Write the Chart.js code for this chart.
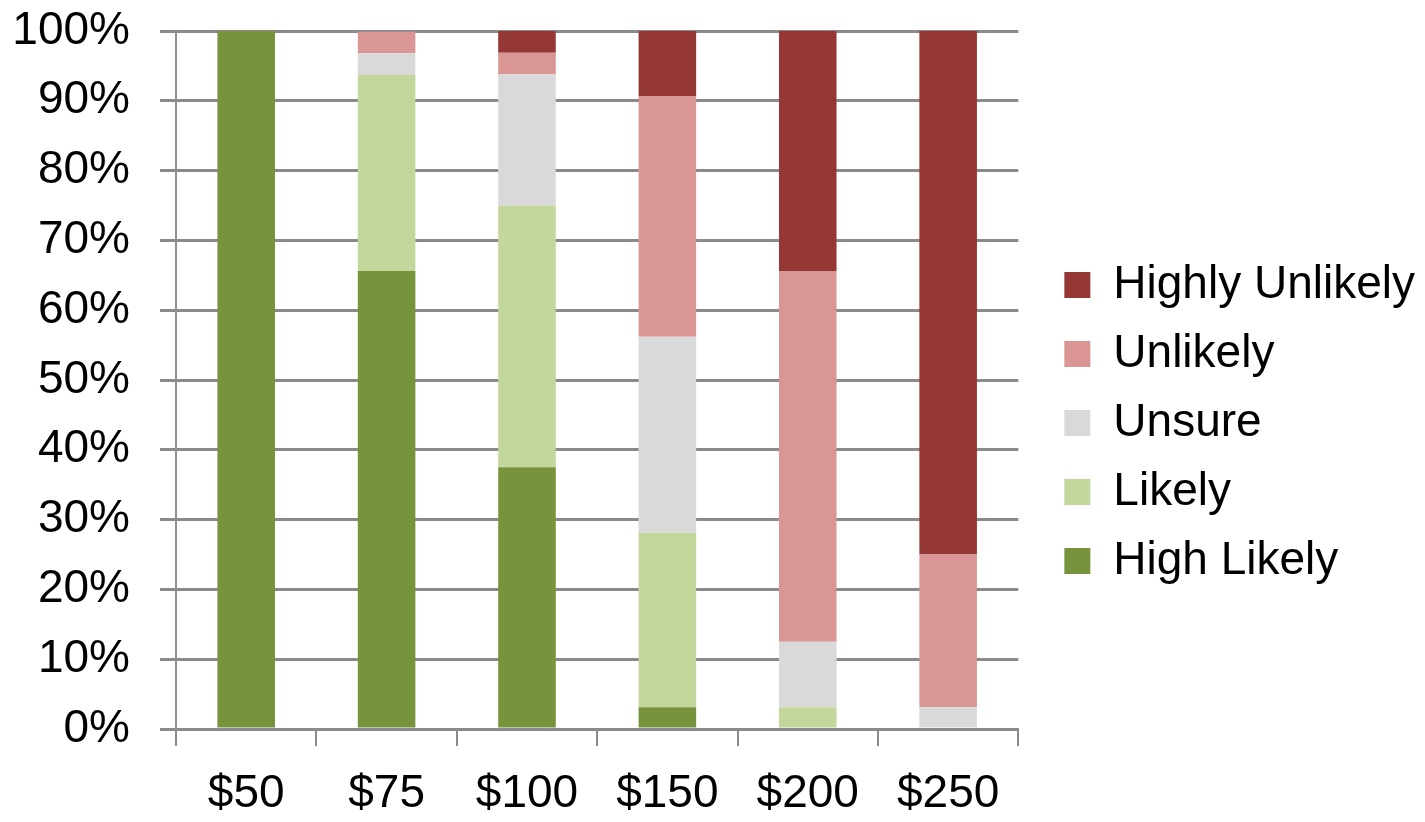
<!DOCTYPE html>
<html>
<head>
<meta charset="utf-8">
<script src="https://cdn.jsdelivr.net/npm/chart.js@4.4.1/dist/chart.umd.min.js"></script>
<style>
  html, body { margin: 0; padding: 0; background: #fff; }
  #wrap { width: 1425px; height: 822px; }
</style>
</head>
<body>
<div id="wrap"><canvas id="priceChart"></canvas></div>
<script>
// price points asked about
const prices = ['$50', '$75', '$100', '$150', '$200', '$250'];

// share of answers, percent (bottom of the stack first)
const highLikely     = [100, 65.6, 37.5, 3.1, 0, 0];
const likely         = [0, 28.1, 37.5, 25.0, 3.1, 0];
const unsure         = [0, 3.1, 18.8, 28.1, 9.4, 3.1];
const unlikely       = [0, 3.1, 3.1, 34.4, 53.1, 21.9];
const highlyUnlikely = [0, 0, 3.1, 9.4, 34.4, 75.0];

const yTicks = [0, 10, 20, 30, 40, 50, 60, 70, 80, 90, 100];

Chart.defaults.font.family = '"Liberation Sans", Arial, sans-serif';
Chart.defaults.font.size = 46;
Chart.defaults.color = '#000';

let ctx = document.getElementById('priceChart').getContext('2d');

const data = {
  labels: prices,
  datasets: [
    { label: 'High Likely', data: highLikely, backgroundColor: '#77933c' },
    { label: 'Likely', data: likely, backgroundColor: '#c3d69b' },
    { label: 'Unsure', data: unsure, backgroundColor: '#d9d9d9' },
    { label: 'Unlikely', data: unlikely, backgroundColor: '#d99694' },
    { label: 'Highly Unlikely', data: highlyUnlikely, backgroundColor: '#953735' },
  ],
};

const config = {
  type: 'bar',
  data: data,
  options: {
    responsive: true,
    maintainAspectRatio: false,
    animation: false,
    layout: { padding: { top: 24 } },
    datasets: {
      bar: { barPercentage: 0.41, categoryPercentage: 1, borderWidth: 0 },
    },
    plugins: {
      tooltip: { enabled: false },
      legend: {
        position: 'right',
        reverse: true,
        maxWidth: 400,
        labels: {
          boxWidth: 26,
          boxHeight: 26,
          padding: 23,
          font: { size: 46 },
        },
      },
    },
    scales: {
      x: {
        stacked: true,
        grid: {
          display: true,
          drawOnChartArea: false,
          tickLength: 17,
          color: '#8a8a8a',
          lineWidth: 2,
        },
        border: { color: '#8a8a8a', width: 3 },
        ticks: { padding: 21, font: { size: 46 } },
        afterFit: (scale) => {
          scale.height = 93;
          scale.paddingLeft = 0;
          scale.paddingRight = 0;
        },
      },
      y: {
        stacked: true,
        min: 0,
        max: 100,
        afterBuildTicks: (scale) => {
          scale.ticks = yTicks.map((v) => ({ value: v }));
        },
        grid: { color: '#8a8a8a', lineWidth: 3, tickLength: 16 },
        border: { color: '#8f8f8f', width: 2 },
        ticks: {
          padding: 30,
          font: { size: 46 },
          callback: (v) => v + '%',
        },
        afterFit: (scale) => {
          scale.width = 176;
          scale.paddingTop = 31;
          scale.paddingBottom = 0;
        },
      },
      // empty axis, only keeps a gap between the plot and the legend
      gap: {
        type: 'linear',
        position: 'right',
        grid: { display: false },
        border: { display: false },
        ticks: { display: false },
        afterFit: (scale) => {
          scale.width = 23;
          scale.paddingTop = 0;
          scale.paddingBottom = 0;
        },
      },
    },
  },
};

new Chart(ctx, config);
</script>
</body>
</html>
